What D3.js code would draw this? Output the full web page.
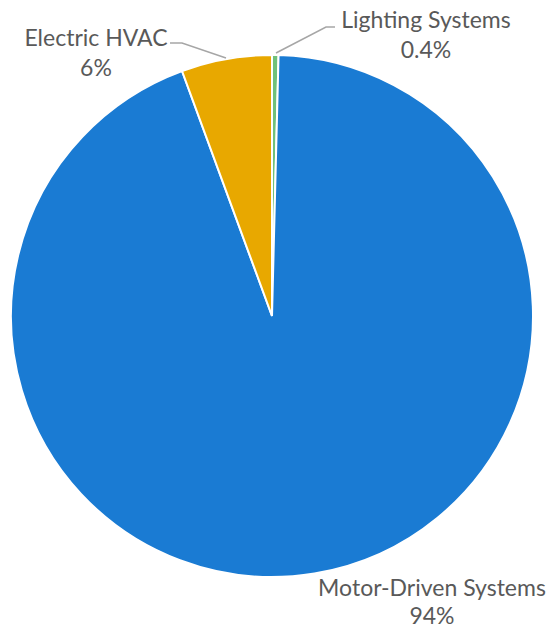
<!DOCTYPE html>
<html>
<head>
<meta charset="utf-8">
<script src="https://cdn.jsdelivr.net/npm/d3@7"></script>
<style>
  body { margin: 0; background: #fff; }
  text { font-family: Lato, "Open Sans", sans-serif; fill: #595959; font-size: 23px; }
</style>
</head>
<body>
<div id="chart"></div>
<script>
const categories = ["Lighting Systems", "Motor-Driven Systems", "Electric HVAC"];
const values = [0.4, 94.0, 5.6];
const valueLabels = ["0.4%", "94%", "6%"];
const colors = ["#70c17a", "#1a7bd3", "#e8a800"];

const width = 550, height = 630;
const cx = 272, cy = 316, radius = 261;

const svg = d3.select("#chart").append("svg")
    .attr("width", width)
    .attr("height", height);

const g = svg.append("g")
    .attr("transform", `translate(${cx},${cy})`);

const pie = d3.pie().sort(null).value(d => d);
const arc = d3.arc().innerRadius(0).outerRadius(radius);
const arcs = pie(values);

g.selectAll("path.slice")
    .data(arcs)
    .enter().append("path")
    .attr("class", "slice")
    .attr("d", arc)
    .attr("fill", (d, i) => colors[i])
    .attr("stroke", "#fff")
    .attr("stroke-width", 2);

// label placement (offsets relative to centre)
const labelPos = [
    { x: 154, y: -288, dy: 30, line: [[4, -263], [54, -289], [63, -289]] },
    { x: 160, y: 280, dy: 28, line: null },
    { x: -176, y: -270, dy: 30, line: [[-46, -258], [-90, -273], [-102, -273]] }
];

labelPos.forEach((p, i) => {
    if (p.line) {
        g.append("path")
            .attr("d", d3.line()(p.line))
            .attr("fill", "none")
            .attr("stroke", "#a6a6a6")
            .attr("stroke-width", 1.5);
    }
    const t = g.append("text")
        .attr("x", p.x)
        .attr("y", p.y)
        .attr("text-anchor", "middle");
    t.append("tspan").attr("x", p.x).attr("dy", 0).text(categories[i]);
    t.append("tspan").attr("x", p.x).attr("dy", p.dy).text(valueLabels[i]);
});
</script>
</body>
</html>
